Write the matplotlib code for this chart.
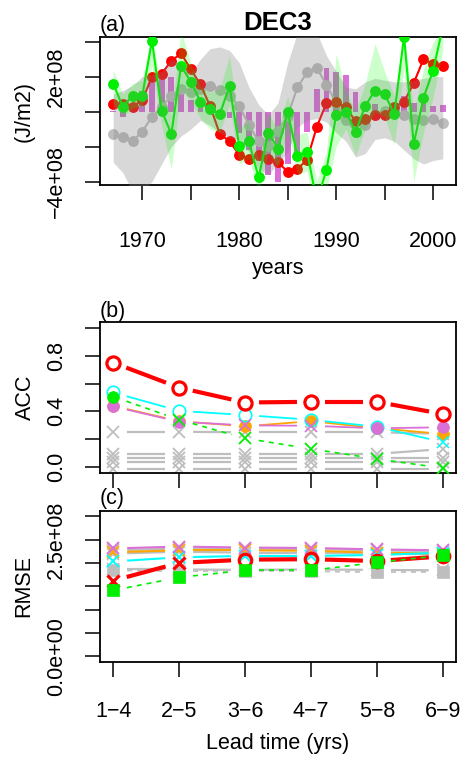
import numpy as np
import matplotlib
matplotlib.use('Agg')
import matplotlib.pyplot as plt

plt.rcParams['font.family'] = ['Liberation Sans', 'DejaVu Sans']

W, H = 463, 760

# ---- panel (a): time series, units of 1e8 J/m2 ----
years = np.arange(1967, 2002)
obs_grey = [-1.29, -1.46, -1.68, -1.14, -0.30, 0.25, 0.92, 1.30, 1.12, 1.30,
            1.48, 1.25, 0.90, 0.31, -0.76, -1.71, -1.95, -1.10, -0.25, 1.39,
            2.24, 2.52, 1.52, 0.50, -0.47, -1.15, -0.74, -0.17, 0.02, 0.05,
            -0.22, -0.45, -0.50, -0.43, -0.67]
hc_red = [0.44, 0.44, 0.29, 0.65, 2.00, 2.17, 2.90, 3.33, 2.42, 1.55,
          0.31, -1.28, -1.70, -2.46, -2.70, -2.49, -2.73, -2.89, -3.45, -3.28,
          -2.76, -0.88, 0.50, 0.53, 0.24, -0.55, -0.40, -0.19, -0.19, 0.29,
          0.55, 1.63, 2.99, 2.73, 2.63]
hc_green = [1.60, 0.27, 0.92, 0.90, 4.05, 0.05, -1.28, 2.61, 1.72, 0.57,
            0.12, -0.13, 1.45, -1.97, -1.71, -3.77, -1.22, -2.13, -0.05, -2.52,
            -2.29, -5.15, -3.33, -0.20, 0.00, -1.16, 0.33, 1.20, 1.00, -0.14,
            4.29, -1.85, 0.78, 2.35, 4.84]
anom_bars = [0.05, -0.29, 0.20, 1.20, 1.66, 2.05, 2.00, 1.30, 0.67, 0.45,
             0.22, -0.08, -0.38, -1.20, -2.20, -2.80, -3.60, -4.05, -3.00, -2.60,
             -1.15, 1.28, 2.50, 2.27, 2.10, 1.10, 0.40, 0.42, 0.12, 0.20,
             0.88, 0.48, 0.50, 0.32, 0.38]
grey_lo = [-2.9, -3.5, -4.6, -4.6, -4.0, -3.0, -2.0, -1.4, -1.0, -0.5,
           -0.8, -1.2, -1.5, -1.6, -2.3, -3.3, -3.6, -3.0, -2.3, -0.9,
           -0.5, -0.4, -0.6, -1.2, -1.7, -2.6, -2.4, -1.6, -1.5, -1.7,
           -2.2, -2.7, -3.0, -2.8, -2.7]
grey_hi = [1.0, 1.2, 1.5, 2.0, 2.1, 2.3, 3.0, 2.7, 2.2, 3.0,
           3.6, 3.7, 3.5, 2.8, 1.4, 0.4, -0.2, 0.5, 2.8, 4.5,
           4.6, 4.5, 3.2, 2.3, 1.4, 1.3, 1.7, 1.9, 1.8, 1.7,
           1.7, 1.8, 1.9, 2.0, 2.0]
green_lo = [0.5, -0.3, 0.2, 0.3, 2.6, -0.8, -3.3, 1.3, 0.6, -0.4,
            -1.0, -1.2, 0.4, -3.0, -2.7, -4.6, -2.3, -3.2, -1.1, -3.6,
            -3.4, -6.5, -4.5, -2.0, -1.0, -2.5, -1.0, 0.0, -0.3, -1.9,
            2.5, -4.0, -1.2, 0.8, 3.5]
green_hi = [2.4, 1.0, 1.6, 1.8, 4.6, 1.0, -0.2, 4.6, 2.8, 1.4,
            1.1, 1.3, 3.2, -0.9, -0.6, -2.8, -0.1, -1.0, 0.9, -1.3,
            -1.2, -4.0, -2.3, 3.3, 1.2, 0.0, 1.6, 3.9, 2.3, 0.9,
            4.6, 0.0, 2.4, 4.0, 4.6]

# ---- panels (b) and (c): skill against lead time ----
leads = [1, 2, 3, 4, 5, 6]
lead_labels = ['1\u22124', '2\u22125', '3\u22126', '4\u22127', '5\u22128', '6\u22129']

acc_red = [0.75, 0.571, 0.464, 0.469, 0.469, 0.381]
acc_cyan = [0.536, 0.404, 0.374, 0.34, 0.29, 0.179]
acc_orchid = [0.436, 0.326, 0.30, 0.297, 0.279, 0.286]
acc_orange = [0.44, 0.33, 0.293, 0.33, 0.28, 0.238]
acc_green = [0.507, 0.34, 0.207, 0.131, 0.059, -0.007]
acc_grey = [[0.254, 0.254, 0.25, 0.25, 0.25, 0.24],
            [0.095, 0.095, 0.095, 0.095, 0.095, 0.13],
            [0.064, 0.064, 0.064, 0.064, 0.064, 0.064],
            [0.04, 0.04, 0.04, 0.04, 0.04, 0.04],
            [-0.015, -0.015, -0.015, -0.015, -0.015, -0.015]]
# marker per lead: 'o' open circle, 'O' filled circle, 'x' cross, 's' filled square
acc_red_pch = ['o'] * 6
acc_cyan_pch = ['o', 'o', 'o', 'o', 'o', 'x']
acc_orchid_pch = ['O', 'O', 'x', 'x', 'O', 'O']
acc_orange_pch = ['O'] * 6
acc_green_pch = ['O', 'x', 'x', 'x', 'x', 'x']

# RMSE in units of 1e8 J/m2
rmse_red = [1.62, 2.00, 2.07, 2.08, 2.04, 2.14]
rmse_cyan = [2.03, 2.12, 2.15, 2.15, 2.17, 2.22]
rmse_orange = [2.23, 2.27, 2.27, 2.26, 2.22, 2.20]
rmse_orchid = [2.31, 2.35, 2.33, 2.32, 2.29, 2.27]
rmse_green = [1.41, 1.69, 1.84, 1.84, 2.01, 2.16]
rmse_persist = [1.84, 1.82, 1.83, 1.82, 1.80, 1.80]
rmse_grey = [[2.27, 2.31, 2.30, 2.30, 2.27, 2.25],
             [2.20, 2.24, 2.22, 2.22, 2.20, 2.20],
             [1.86, 1.86, 1.85, 1.86, 1.85, 1.84]]
rmse_red_pch = ['x', 'x', 'o', 'o', 'o', 'o']

RED, CYAN, ORCHID, ORANGE = '#FF0000', '#00FFFF', '#DA70D6', '#FFA500'
GREEN, GREY = '#00EE00', '#BEBEBE'
FS = 15.5


def box(l, t, r, b):
    return [l / W, 1 - b / H, (r - l) / W, (b - t) / H]


def ftext(x, y, s, **kw):
    fig.text(x / W, 1 - y / H, s, **kw)


def style_axes(ax, xpad=14.5):
    for sp in ax.spines.values():
        sp.set_linewidth(1.3)
    ax.tick_params(direction='out', length=11, width=1.1, labelsize=FS)
    ax.tick_params(axis='x', pad=xpad)
    ax.tick_params(axis='y', pad=12.5)
    for lab in ax.get_yticklabels():
        lab.set_rotation(90)
        lab.set_va('center')


def gapped(ax, x, y, gap=14, **kw):
    # line segments that stop short of each point (like R type="b")
    pts = ax.transData.transform(np.column_stack([x, y]))
    inv = ax.transData.inverted()
    for p0, p1 in zip(pts[:-1], pts[1:]):
        d = np.hypot(*(p1 - p0))
        if d <= 2 * gap:
            continue
        u = (p1 - p0) / d
        seg = inv.transform(np.array([p0 + u * gap, p1 - u * gap]))
        ax.plot(seg[:, 0], seg[:, 1], solid_capstyle='butt', **kw)


def marks(ax, x, y, pch, color, ms=8.5, mew=1.2, z=5):
    for xi, yi, m in zip(x, y, pch):
        if m == 'o':
            ax.plot(xi, yi, 'o', ms=ms, mfc='none', mec=color, mew=mew, zorder=z)
        elif m == 'O':
            ax.plot(xi, yi, 'o', ms=ms - 0.5, mfc=color, mec=color, mew=0.5, zorder=z)
        elif m == 's':
            ax.plot(xi, yi, 's', ms=ms, mfc=color, mec=color, mew=0.5, zorder=z)
        else:
            ax.plot(xi, yi, 'x', ms=ms, color=color, mew=mew, zorder=z)


fig = plt.figure(figsize=(W / 100, H / 100), dpi=100)

# ---------------- (a) ----------------
ax = fig.add_axes(box(100, 37.3, 456, 185))
ax.set_xlim(1965.64, 2002.36)
ax.set_ylim(-4.2e8, 4.25e8)
E8 = 1e8
ax.bar(years, np.array(anom_bars) * E8, width=0.6, color=ORCHID, lw=0, zorder=1)
ax.plot(years, np.array(obs_grey) * E8, '-o', color=GREY, lw=1.5, ms=6.8, zorder=2)
ax.plot(years, np.array(hc_red) * E8, '-o', color=RED, lw=1.5, ms=6.8, zorder=3)
ax.plot(years, np.array(hc_green) * E8, '-o', color=GREEN, lw=1.5, ms=6.8, zorder=3)
ax.fill_between(years, np.array(grey_lo) * E8, np.array(grey_hi) * E8,
                color='#808080', alpha=0.3, lw=0, zorder=4)
ax.fill_between(years, np.array(green_lo) * E8, np.array(green_hi) * E8,
                color='#00FF00', alpha=0.2, lw=0, zorder=5)
ax.set_xticks(np.arange(1970, 2001, 5))
ax.set_xticklabels(['1970', '', '1980', '', '1990', '', '2000'])
ax.set_yticks(np.arange(-4, 5, 2) * E8)
ax.set_yticklabels(['\u22124e+08', '', '', '2e+08', ''])
style_axes(ax, xpad=22)
ftext(278, 23.5, 'DEC3', ha='center', va='center', fontsize=18.5, fontweight='bold')
ftext(100, 25, '(a)', ha='left', va='center', fontsize=FS)
ftext(24, 111, '(J/m2)', ha='center', va='center', rotation=90, fontsize=FS)
ftext(278, 269, 'years', ha='center', va='center', fontsize=FS)

# ---------------- (b) ----------------
ax = fig.add_axes(box(100, 322.3, 456, 472.7))
ax.set_xlim(0.8, 6.2)
ax.set_ylim(-0.04, 1.04)
for g in acc_grey:
    gapped(ax, leads, g, color=GREY, lw=1.6, zorder=2)
    marks(ax, leads, g, ['x'] * 6, GREY, ms=8.5, mew=1.3, z=2)
for vals, col, pch in [(acc_orange, ORANGE, acc_orange_pch),
                       (acc_cyan, CYAN, acc_cyan_pch),
                       (acc_orchid, ORCHID, acc_orchid_pch)]:
    gapped(ax, leads, vals, color=col, lw=1.3, zorder=3)
    marks(ax, leads, vals, pch, col, ms=9, mew=1.2, z=3)
gapped(ax, leads, acc_green, color=GREEN, lw=1.2, ls=(0, (3, 3)), zorder=4)
marks(ax, leads, acc_green, acc_green_pch, GREEN, ms=9, mew=1.3, z=4)
gapped(ax, leads, acc_red, color=RED, lw=3, zorder=6)
marks(ax, leads, acc_red, acc_red_pch, RED, ms=9.5, mew=2.3, z=6)
ax.set_xticks(leads)
ax.set_xticklabels([''] * 6)
ax.set_yticks(np.arange(0, 1.01, 0.2))
ax.set_yticklabels(['0.0', '', '0.4', '', '0.8', ''])
style_axes(ax)
ftext(100, 311, '(b)', ha='left', va='center', fontsize=FS)
ftext(25, 397.5, 'ACC', ha='center', va='center', rotation=90, fontsize=FS)

# ---------------- (c) ----------------
ax = fig.add_axes(box(100, 510.7, 456, 661.7))
ax.set_xlim(0.8, 6.2)
ax.set_ylim(-0.12e8, 3.12e8)
for g in rmse_grey:
    gv = np.array(g) * E8
    gapped(ax, leads, gv, color=GREY, lw=1.6, zorder=2)
    marks(ax, leads, gv, ['x'] * 6, GREY, ms=8.5, mew=1.3, z=2)
pv = np.array(rmse_persist) * E8
gapped(ax, leads, pv, color=GREY, lw=1.2, ls=(0, (3, 3)), zorder=2)
marks(ax, leads, pv, ['s'] * 6, GREY, ms=8.5, z=2)
for vals, col in [(rmse_orange, ORANGE), (rmse_cyan, CYAN), (rmse_orchid, ORCHID)]:
    v = np.array(vals) * E8
    gapped(ax, leads, v, color=col, lw=1.5, zorder=3)
    marks(ax, leads, v, ['x'] * 6, col, ms=9, mew=1.4, z=3)
rv = np.array(rmse_red) * E8
gapped(ax, leads, rv, color=RED, lw=3, zorder=4)
marks(ax, leads, rv, rmse_red_pch, RED, ms=9, mew=2.3, z=4)
gv = np.array(rmse_green) * E8
gapped(ax, leads, gv, color=GREEN, lw=1.2, ls=(0, (3, 3)), zorder=5)
marks(ax, leads, gv, ['s'] * 6, GREEN, ms=8.5, z=5)
ax.set_xticks(leads)
ax.set_xticklabels(lead_labels)
ax.set_yticks(np.arange(0, 3.01, 0.5) * E8)
ax.set_yticklabels(['0.0e+00', '', '', '', '', '2.5e+08', ''])
style_axes(ax, xpad=17.5)
ftext(100, 498.5, '(c)', ha='left', va='center', fontsize=FS)
ftext(24, 586, 'RMSE', ha='center', va='center', rotation=90, fontsize=FS)
ftext(278, 743, 'Lead time (yrs)', ha='center', va='center', fontsize=FS)

fig.savefig('out.png', dpi=100)
